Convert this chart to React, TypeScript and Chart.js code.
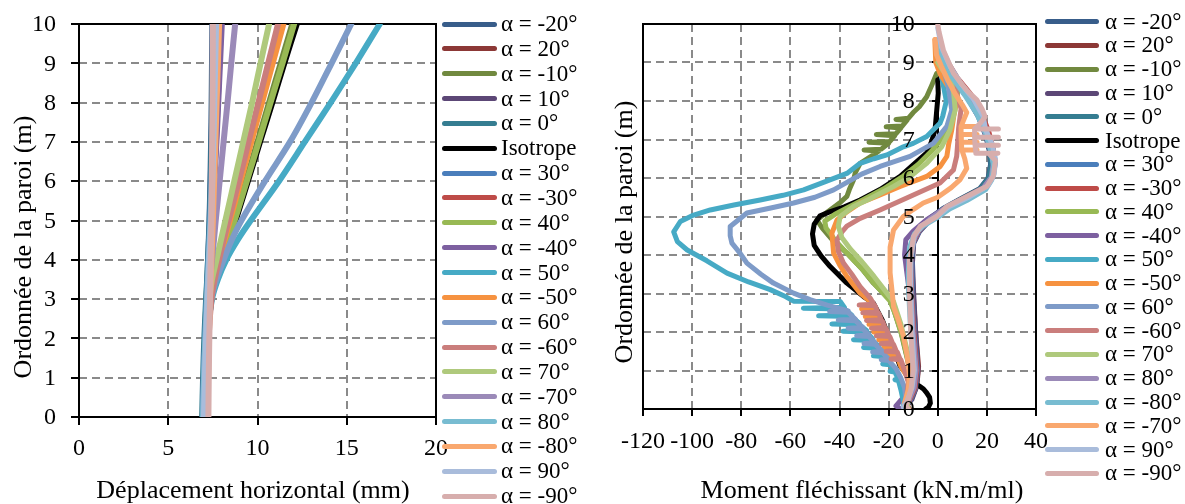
import React, { useEffect, useRef } from 'react';
import { Chart, registerables } from 'chart.js';

Chart.register(...registerables);

// ---------- Left chart : horizontal displacement (mm) vs wall ordinate (m) ----------
const DEPTH = [0, 1, 2, 3, 3.5, 4, 4.5, 5, 6, 7, 8, 9, 10];

const dispM20 = [6.95, 7.0, 7.06, 7.14, 7.19, 7.23, 7.27, 7.31, 7.36, 7.4, 7.43, 7.45, 7.47];
const disp20 = [7.0, 7.05, 7.11, 7.19, 7.24, 7.29, 7.34, 7.39, 7.47, 7.54, 7.6, 7.66, 7.72];
const dispM10 = [7.05, 7.1, 7.18, 7.38, 7.65, 7.98, 8.33, 8.68, 9.35, 10.0, 10.65, 11.3, 11.95];
const disp10 = [7.05, 7.08, 7.13, 7.2, 7.26, 7.32, 7.39, 7.45, 7.56, 7.67, 7.77, 7.86, 7.95];
const disp0 = [6.9, 6.95, 7.02, 7.12, 7.18, 7.23, 7.28, 7.32, 7.38, 7.43, 7.47, 7.5, 7.53];
const dispIso = [7.05, 7.1, 7.2, 7.42, 7.68, 8.05, 8.4, 8.77, 9.46, 10.14, 10.83, 11.5, 12.2];
const disp30 = [6.95, 7.0, 7.07, 7.16, 7.21, 7.26, 7.31, 7.35, 7.42, 7.48, 7.53, 7.58, 7.62];
const dispM30 = [7.0, 7.05, 7.12, 7.2, 7.26, 7.31, 7.36, 7.41, 7.49, 7.56, 7.62, 7.68, 7.74];
const disp40 = [7.05, 7.1, 7.19, 7.4, 7.66, 8.0, 8.36, 8.72, 9.4, 10.07, 10.73, 11.4, 12.05];
const dispM40 = [7.1, 7.12, 7.16, 7.23, 7.28, 7.34, 7.4, 7.46, 7.58, 7.7, 7.8, 7.9, 8.0];
const disp50 = [7.0, 7.04, 7.14, 7.45, 7.78, 8.25, 8.88, 9.62, 11.2, 12.65, 14.1, 15.5, 16.85];
const dispM50 = [7.1, 7.15, 7.22, 7.4, 7.62, 7.88, 8.15, 8.45, 9.05, 9.65, 10.25, 10.85, 11.45];
const disp60 = [6.95, 7.0, 7.1, 7.4, 7.7, 8.1, 8.55, 9.1, 10.42, 11.82, 13.03, 14.15, 15.25];
const dispM60 = [7.15, 7.2, 7.26, 7.42, 7.6, 7.85, 8.1, 8.38, 8.95, 9.5, 10.05, 10.6, 11.15];
const disp70 = [7.05, 7.1, 7.16, 7.3, 7.45, 7.7, 7.95, 8.2, 8.7, 9.2, 9.7, 10.17, 10.65];
const dispM70 = [7.1, 7.13, 7.17, 7.25, 7.35, 7.45, 7.56, 7.66, 7.88, 8.1, 8.32, 8.53, 8.75];
const disp80 = [6.95, 7.01, 7.08, 7.17, 7.22, 7.27, 7.32, 7.37, 7.45, 7.52, 7.58, 7.63, 7.68];
const dispM80 = [7.2, 7.23, 7.27, 7.34, 7.38, 7.42, 7.46, 7.5, 7.57, 7.64, 7.71, 7.78, 7.85];
const disp90 = [7.0, 7.05, 7.12, 7.2, 7.25, 7.3, 7.35, 7.4, 7.47, 7.53, 7.58, 7.63, 7.68];
const dispM90 = [7.25, 7.27, 7.3, 7.34, 7.36, 7.38, 7.4, 7.42, 7.44, 7.46, 7.48, 7.49, 7.5];

const LEFT_LABELS = [
  'α = -20°', 'α = 20°', 'α = -10°', 'α = 10°', 'α = 0°', 'Isotrope', 'α = 30°', 'α = -30°',
  'α = 40°', 'α = -40°', 'α = 50°', 'α = -50°', 'α = 60°', 'α = -60°', 'α = 70°', 'α = -70°',
  'α = 80°', 'α = -80°', 'α = 90°', 'α = -90°',
];
const DISP_SERIES = [
  dispM20, disp20, dispM10, disp10, disp0, dispIso, disp30, dispM30, disp40, dispM40,
  disp50, dispM50, disp60, dispM60, disp70, dispM70, disp80, dispM80, disp90, dispM90,
];

// ---------- Right chart : bending moment (kN.m/ml) vs wall ordinate (m), [moment, ordinate] ----------
const momM20: [number, number][] = [[0,9.4],[2.5,9.0],[7,8.5],[12,8.1],[16.5,7.6],[19.5,7.1],[21,6.7],[21.5,6.35],[20.5,6.0],[17,5.72],[9,5.45],[2,5.2],[-4,4.92],[-8.5,4.6],[-10.5,4.3],[-11,3.8],[-10.8,3.0],[-10,2.0],[-8.8,1.0],[-9.5,0.55],[-11.5,0.25],[-13.5,0.08],[-12.5,0]];
const mom20: [number, number][] = [[0,9.5],[3,9.05],[7.5,8.55],[12.5,8.15],[17,7.65],[20,7.1],[21.5,6.7],[22,6.35],[21,6.0],[17.5,5.72],[9.5,5.45],[2.5,5.2],[-3.5,4.92],[-8,4.6],[-10,4.3],[-10.5,3.8],[-10,3.0],[-9,2.0],[-7.8,1.1],[-8.5,0.6],[-10.5,0.3],[-12.5,0.08],[-11.5,0]];
const momM10: [number, number][] = [[-0.4,8.72],[-2.5,8.4],[-4.5,8.11],[-7.5,7.85],[-10,7.7],[-12,7.55],[-17,7.52],[-12.5,7.5],[-14.5,7.35],[-21,7.33],[-15,7.3],[-17,7.15],[-25,7.13],[-17.5,7.1],[-19.5,6.95],[-28,6.93],[-20,6.9],[-23,6.75],[-30,6.73],[-24,6.7],[-26.2,6.6],[-31.6,6.38],[-33.5,6.15],[-34.3,5.95],[-36,5.7],[-37,5.52],[-40,5.35],[-43.8,5.17],[-47,5.02],[-49.2,4.91],[-47,4.7],[-43,4.4],[-37,4.05],[-31,3.65],[-26.2,3.27],[-22,3.0],[-19.4,2.84],[-18,2.6],[-16.5,2.3],[-15,2.0],[-13.5,1.6],[-12,1.2],[-10.5,0.8],[-11,0.4],[-12.5,0.1],[-12,0]];
const mom10: [number, number][] = [[0,9.45],[2.8,9.0],[7.2,8.5],[12.2,8.1],[16.8,7.6],[19.8,7.1],[21.5,6.7],[22.2,6.35],[21.2,6.0],[18,5.72],[10,5.45],[2.8,5.2],[-3,4.92],[-7.5,4.6],[-9.8,4.3],[-10.3,3.8],[-9.8,3.0],[-9,2.0],[-8,1.0],[-8.8,0.55],[-10.5,0.25],[-12.8,0.08],[-12,0]];
const mom0: [number, number][] = [[0,9.4],[2.6,9.0],[7,8.52],[12,8.1],[16.5,7.62],[19.6,7.12],[21.2,6.72],[21.8,6.35],[20.8,6.0],[17.3,5.72],[9.3,5.45],[2.3,5.2],[-3.8,4.92],[-8.3,4.6],[-10.3,4.3],[-10.8,3.8],[-10.4,3.0],[-9.6,2.0],[-8.5,1.0],[-9.2,0.55],[-11.2,0.25],[-13.2,0.08],[-12.2,0]];
const momIso: [number, number][] = [[0,8.55],[0.2,8.2],[-0.4,7.77],[-1.1,7.25],[-2.5,6.95],[-4.5,6.65],[-9,6.4],[-15.3,6.04],[-23.5,5.7],[-31.6,5.43],[-38,5.25],[-44,5.12],[-47.9,5.02],[-50.3,4.8],[-51,4.55],[-50.3,4.25],[-47.5,3.98],[-43.8,3.7],[-37,3.27],[-30.2,2.92],[-26.2,2.75],[-22.5,2.3],[-19.5,1.8],[-17,1.4],[-15.3,1.11],[-12,0.85],[-9.9,0.67],[-7.5,0.6],[-5.8,0.52],[-4.5,0.42],[-3.3,0.3],[-3,0.15],[-3.8,0.05],[-5,0]];
const mom30: [number, number][] = [[0,9.5],[3,9.05],[7.8,8.55],[13,8.15],[17.5,7.65],[20.5,7.15],[22.5,6.75],[23.5,6.4],[22.5,6.02],[19,5.75],[11,5.48],[3.5,5.22],[-2.5,4.95],[-7.5,4.62],[-10,4.3],[-10.8,3.8],[-10.5,3.0],[-9.5,2.0],[-8.3,1.0],[-9,0.55],[-11,0.25],[-13,0.08],[-12,0]];
const momM30: [number, number][] = [[0,9.55],[3.2,9.1],[8,8.6],[13.2,8.2],[17.8,7.7],[20.8,7.2],[22.6,6.75],[23.2,6.4],[22.2,6.03],[18.7,5.75],[10.7,5.48],[3.2,5.22],[-2.8,4.95],[-7.8,4.62],[-10.2,4.3],[-11,3.8],[-10.6,3.0],[-9.7,2.0],[-8.5,1.0],[-9.2,0.55],[-11.3,0.25],[-13.3,0.08],[-12.3,0]];
const mom40: [number, number][] = [[0,9.1],[3,8.85],[6.5,8.55],[8.4,8.4],[7.5,7.9],[5,7.45],[2,7.05],[-2.5,6.7],[-8,6.35],[-14,6.05],[-22,5.72],[-30,5.45],[-37,5.22],[-42,5.05],[-46,4.88],[-45.5,4.7],[-42,4.4],[-37,4.05],[-31,3.65],[-26,3.27],[-21.5,2.95],[-19.4,2.8],[-17.5,2.5],[-16,2.2],[-14.5,1.9],[-13,1.5],[-11.5,1.1],[-10.5,0.7],[-11.5,0.35],[-12.5,0.1],[-12,0]];
const momM40: [number, number][] = [[0,9.4],[2.5,9.0],[7,8.5],[12,8.1],[16.5,7.6],[19.6,7.1],[21.5,6.7],[23,6.35],[22,6.0],[18.5,5.72],[10,5.45],[2.5,5.2],[-4.5,4.92],[-10,4.62],[-13,4.4],[-13.5,4.0],[-12.5,3.5],[-11.5,3.0],[-10.5,2.0],[-9.5,1.0],[-11,0.6],[-14,0.3],[-17,0.08],[-15,0]];
const mom50: [number, number][] = [[0,9.0],[2,8.5],[3.5,8.0],[2,7.6],[0.9,7.42],[-4.5,7.08],[-10,6.9],[-14,6.81],[-20.7,6.6],[-26,6.5],[-31.6,6.38],[-37,6.12],[-46,5.9],[-54.6,5.69],[-63,5.55],[-72.3,5.43],[-83,5.3],[-92.6,5.17],[-100,5.02],[-104.8,4.87],[-107.5,4.6],[-106,4.35],[-102,4.13],[-94,3.85],[-85.8,3.53],[-77,3.3],[-68.2,3.1],[-62,2.92],[-58.7,2.8],[-39.7,2.79],[-38,2.64],[-54.7,2.62],[-38,2.6],[-35,2.44],[-48.5,2.42],[-35,2.4],[-32,2.23],[-43.1,2.21],[-32,2.19],[-29,2.04],[-38.6,2.02],[-29,2.0],[-26.5,1.82],[-34.3,1.8],[-26.5,1.78],[-24,1.62],[-30.2,1.6],[-24,1.58],[-21.5,1.4],[-26.2,1.38],[-21.5,1.36],[-19.5,1.19],[-22.4,1.17],[-19.5,1.15],[-17.5,1.0],[-19.4,0.98],[-17.5,0.96],[-16,0.78],[-17.4,0.76],[-16,0.74],[-15,0.5],[-14,0.2],[-13,0]];
const momM50: [number, number][] = [[-1.2,9.6],[-0.8,9.0],[1,8.7],[4,8.4],[7.7,8.0],[6.5,7.6],[5.7,7.25],[4.5,6.9],[3.7,6.56],[1,6.3],[-4.5,6.04],[-15.3,5.78],[-24,5.55],[-31.6,5.35],[-37,5.12],[-41,4.91],[-43.1,4.57],[-42.4,4.05],[-40,3.75],[-37,3.44],[-31.6,3.01],[-27.5,2.79],[-26,2.62],[-31,2.6],[-25.5,2.58],[-24.5,2.42],[-29.5,2.4],[-24,2.38],[-23,2.22],[-28,2.2],[-22.5,2.18],[-21.5,2.02],[-26,2.0],[-21,1.98],[-20,1.82],[-24,1.8],[-19.5,1.78],[-18.5,1.62],[-22,1.6],[-18,1.58],[-17,1.42],[-20,1.4],[-16.5,1.38],[-15,1.1],[-12,0.8],[-11.5,0.5],[-12.5,0.15],[-12,0]];
const mom60: [number, number][] = [[0.5,9.2],[2.5,8.8],[4.3,8.37],[5.7,7.77],[3.7,7.34],[-1.8,6.9],[-11.3,6.56],[-23.5,6.3],[-31,6.1],[-42.4,5.69],[-50,5.5],[-58.7,5.35],[-68,5.22],[-77.7,5.09],[-84.5,4.74],[-84.5,4.5],[-83.8,4.31],[-80.5,4.05],[-77.7,3.79],[-72,3.5],[-66.9,3.27],[-58.7,3.01],[-52,2.84],[-45,2.7],[-36.5,2.55],[-44,2.53],[-36.5,2.51],[-33.5,2.33],[-40.5,2.31],[-33.5,2.29],[-30.5,2.12],[-36.5,2.1],[-30.5,2.08],[-28,1.92],[-33,1.9],[-28,1.88],[-25.5,1.72],[-30,1.7],[-25.5,1.68],[-22.5,1.5],[-26.5,1.48],[-22.5,1.46],[-20,1.3],[-23,1.28],[-20,1.26],[-17,1.05],[-15,0.8],[-13.5,0.55],[-13,0.3],[-14,0.1],[-13,0]];
const momM60: [number, number][] = [[0,9.6],[1.5,9.0],[5,8.6],[7.7,8.2],[9.5,7.8],[8.5,7.3],[8,6.8],[7.7,6.56],[6.4,6.21],[0.9,5.87],[-11.3,5.52],[-23.5,5.17],[-31.6,4.95],[-37,4.75],[-39,4.6],[-41,4.39],[-40.5,4.1],[-38.4,3.79],[-35,3.5],[-31.6,3.18],[-27.5,2.88],[-26,2.72],[-32,2.7],[-25.5,2.68],[-24.5,2.52],[-30.5,2.5],[-24,2.48],[-23,2.32],[-29,2.3],[-22.5,2.28],[-21.5,2.12],[-27,2.1],[-21,2.08],[-20,1.92],[-25,1.9],[-19.5,1.88],[-18.5,1.72],[-23,1.7],[-18,1.68],[-17,1.52],[-21,1.5],[-16.5,1.48],[-15.5,1.32],[-19,1.3],[-15,1.28],[-13.5,1.0],[-12,0.7],[-12.5,0.4],[-13.5,0.12],[-12.5,0]];
const mom70: [number, number][] = [[0,9.0],[2,8.8],[5,8.63],[6.5,8.2],[7.1,7.77],[5,7.25],[1.6,6.81],[-4.5,6.38],[-12,6.0],[-18,5.78],[-28,5.45],[-34.3,5.26],[-39.7,5.0],[-40.5,4.75],[-39,4.45],[-35.5,4.15],[-31.6,3.88],[-26,3.45],[-20.7,3.01],[-18,2.79],[-16.5,2.5],[-15,2.2],[-13.5,1.8],[-12,1.4],[-11,1.0],[-10.5,0.6],[-11.5,0.3],[-12.5,0.1],[-12,0]];
const mom80: [number, number][] = [[0,9.5],[3,9.1],[7.5,8.6],[12.5,8.2],[17,7.7],[20,7.2],[21.8,6.75],[22.6,6.38],[21.8,6.02],[18.5,5.74],[10.5,5.47],[3,5.22],[-3,4.95],[-8,4.62],[-10.5,4.3],[-11.2,3.8],[-10.8,3.0],[-10,2.0],[-8.8,1.0],[-9.6,0.55],[-11.6,0.25],[-13.6,0.08],[-12.6,0]];
const momM80: [number, number][] = [[0,9.55],[2,9.1],[6,8.6],[11,8.15],[16,7.65],[19.5,7.15],[21.5,6.72],[22.8,6.3],[22,5.95],[19.5,5.7],[12,5.42],[5,5.2],[0.5,5.0],[-6,4.75],[-9.5,4.55],[-11.5,4.2],[-12,3.5],[-11.8,3.0],[-11,2.0],[-10,1.2],[-10.5,0.6],[-12.5,0.25],[-14,0.08],[-13,0]];
const momM70: [number, number][] = [[-1,9.6],[-0.5,9.2],[1.5,8.9],[4,8.55],[7,8.2],[10,7.9],[11.8,7.7],[10.2,7.45],[9.5,7.34],[16,7.34],[9.5,7.34],[9.5,7.13],[16,7.13],[9.5,7.13],[9.6,6.93],[16,6.93],[9.6,6.93],[9.7,6.73],[16,6.73],[9.8,6.73],[11,6.5],[11.8,6.25],[9,5.95],[5.5,5.75],[0,5.5],[-5.9,5.35],[-10,5.18],[-14,5.0],[-18,4.65],[-19.4,4.2],[-19.4,3.54],[-18.5,3.0],[-18,2.66],[-16,2.3],[-14,1.9],[-12.5,1.4],[-11.5,0.9],[-12,0.5],[-13.5,0.15],[-12.5,0]];
const mom90: [number, number][] = [[0,9.9],[1.5,9.4],[5,8.9],[9.5,8.45],[14.5,8.05],[18.5,7.6],[19.5,7.25],[22,6.9],[23.5,6.5],[23,6.1],[20.5,5.8],[12.5,5.5],[4.5,5.25],[0,5.02],[-6.5,4.76],[-9.5,4.5],[-11,3.9],[-11,3.0],[-10.5,2.0],[-9.5,1.0],[-10.5,0.55],[-12.5,0.2],[-14,0.05],[-13,0]];
const momM90: [number, number][] = [[0,10],[0.5,9.8],[2.3,9.32],[4.5,9.0],[6.4,8.72],[9,8.5],[11.8,8.28],[15.9,8.03],[18,7.8],[19.3,7.59],[17,7.4],[15,7.27],[24.7,7.27],[15,7.27],[15,7.06],[24.7,7.06],[15,7.06],[15.2,6.85],[24.7,6.85],[15.2,6.85],[15.5,6.64],[24.5,6.64],[21,6.62],[23.5,6.45],[22.6,6.05],[19.9,5.78],[11.8,5.52],[3.7,5.26],[-0.4,5.0],[-7.2,4.74],[-9.9,4.48],[-11.3,3.9],[-11.5,3.0],[-11,2.0],[-10,1.0],[-10.8,0.55],[-12,0.25],[-13,0.08],[-12,0]];

const RIGHT_LABELS = [
  'α = -20°', 'α = 20°', 'α = -10°', 'α = 10°', 'α = 0°', 'Isotrope', 'α = 30°', 'α = -30°',
  'α = 40°', 'α = -40°', 'α = 50°', 'α = -50°', 'α = 60°', 'α = -60°', 'α = 70°', 'α = 80°',
  'α = -80°', 'α = -70°', 'α = 90°', 'α = -90°',
];
const MOM_SERIES = [
  momM20, mom20, momM10, mom10, mom0, momIso, mom30, momM30, mom40, momM40,
  mom50, momM50, mom60, momM60, mom70, mom80, momM80, momM70, mom90, momM90,
];

const COLORS = [
  '#385D8A', '#8C3836', '#71893F', '#5C4776', '#357D91', '#000000', '#4A7EBB', '#BE4B48',
  '#98B954', '#7D60A0', '#46AAC5', '#F69240', '#7E9BC8', '#CA7E7C', '#AFC97C', '#9B8AB8',
  '#78BCD1', '#F9A86F', '#A9BCDB', '#D7AEAD',
];

const X_TICKS_DISP = [0, 5, 10, 15, 20];
const X_TICKS_MOM = [-120, -100, -80, -60, -40, -20, 0, 20, 40];
const Y_TICKS = [0, 1, 2, 3, 4, 5, 6, 7, 8, 9, 10];

const FONT_FAMILY = '"Liberation Serif", "Times New Roman", serif';

type Spec = {
  xTicks: number[];
  yTicks: number[];
  yAxisAt: number | null;
  yTickLen: number;
  xTickLen: number;
  labelGap: number;
  xLabelY: number;
  xTitle: string;
  yTitle: string;
  xTitlePos: [number, number];
  yTitlePos: [number, number];
};

function decoPlugin(spec: Spec) {
  return {
    id: 'deco',
    beforeDatasetsDraw(chart: any) {
      const { ctx, chartArea: a, scales } = chart;
      const sx = scales.x;
      const sy = scales.y;
      ctx.save();
      ctx.lineWidth = 2;
      ctx.strokeStyle = '#8a8a8a';
      ctx.setLineDash([8, 5]);
      spec.xTicks.forEach((v) => {
        if (v === sx.min || v === sx.max || v === spec.yAxisAt) return;
        const px = Math.round(sx.getPixelForValue(v));
        ctx.beginPath();
        ctx.moveTo(px, a.top);
        ctx.lineTo(px, a.bottom);
        ctx.stroke();
      });
      spec.yTicks.forEach((v) => {
        if (v === sy.min || v === sy.max) return;
        const py = Math.round(sy.getPixelForValue(v));
        ctx.beginPath();
        ctx.moveTo(a.left, py);
        ctx.lineTo(a.right, py);
        ctx.stroke();
      });
      ctx.setLineDash([]);
      ctx.strokeStyle = '#000';
      ctx.strokeRect(a.left, a.top, a.right - a.left, a.bottom - a.top);
      const axisX = spec.yAxisAt === null ? a.left : Math.round(sx.getPixelForValue(spec.yAxisAt));
      if (spec.yAxisAt !== null) {
        ctx.beginPath();
        ctx.moveTo(axisX, a.top);
        ctx.lineTo(axisX, a.bottom);
        ctx.stroke();
      }
      spec.yTicks.forEach((v) => {
        const py = Math.round(sy.getPixelForValue(v));
        ctx.beginPath();
        ctx.moveTo(axisX - spec.yTickLen, py);
        ctx.lineTo(axisX, py);
        ctx.stroke();
      });
      spec.xTicks.forEach((v) => {
        const px = Math.round(sx.getPixelForValue(v));
        ctx.beginPath();
        ctx.moveTo(px, a.bottom);
        ctx.lineTo(px, a.bottom + spec.xTickLen);
        ctx.stroke();
      });
      ctx.restore();
    },
    afterDraw(chart: any) {
      const { ctx, chartArea: a, scales } = chart;
      const sx = scales.x;
      const sy = scales.y;
      const axisX = spec.yAxisAt === null ? a.left : sx.getPixelForValue(spec.yAxisAt);
      ctx.save();
      ctx.fillStyle = '#000';
      ctx.font = `24px ${FONT_FAMILY}`;
      ctx.textAlign = 'right';
      ctx.textBaseline = 'middle';
      spec.yTicks.forEach((v) => {
        ctx.fillText(String(v), axisX - spec.labelGap, sy.getPixelForValue(v) + 1);
      });
      ctx.textAlign = 'center';
      spec.xTicks.forEach((v) => {
        ctx.fillText(String(v), sx.getPixelForValue(v), spec.xLabelY);
      });
      ctx.font = `26px ${FONT_FAMILY}`;
      ctx.fillText(spec.xTitle, spec.xTitlePos[0], spec.xTitlePos[1]);
      ctx.translate(spec.yTitlePos[0], spec.yTitlePos[1]);
      ctx.rotate(-Math.PI / 2);
      ctx.fillText(spec.yTitle, 0, 0);
      ctx.restore();
    },
  };
}

function Legend({ labels, left, top, pitch, lineW, gap }: { labels: string[]; left: number; top: number; pitch: number; lineW: number; gap: number }) {
  return (
    <>
      {labels.map((lab, i) => (
        <div
          key={lab + i}
          style={{
            position: 'absolute',
            left,
            top: top + i * pitch - 12,
            height: 24,
            display: 'flex',
            alignItems: 'center',
            whiteSpace: 'nowrap',
          }}
        >
          <span style={{ display: 'inline-block', width: lineW, height: 5, borderRadius: 3, background: COLORS[i] }} />
          <span style={{ marginLeft: gap, fontSize: 23, lineHeight: '24px', fontFamily: FONT_FAMILY, color: '#000' }}>{lab}</span>
        </div>
      ))}
    </>
  );
}

export default function App() {
  const leftRef = useRef<HTMLCanvasElement | null>(null);
  const rightRef = useRef<HTMLCanvasElement | null>(null);

  useEffect(() => {
    const n = DISP_SERIES.length;
    const leftChart = new Chart(leftRef.current as HTMLCanvasElement, {
      type: 'scatter',
      data: {
        datasets: DISP_SERIES.map((arr, i) => ({
          label: LEFT_LABELS[i],
          data: arr.map((x, k) => ({ x, y: DEPTH[k] })),
          showLine: true,
          borderColor: COLORS[i],
          backgroundColor: COLORS[i],
          borderWidth: 6,
          pointRadius: 0,
          tension: 0.3,
          borderJoinStyle: 'round',
          borderCapStyle: 'round',
          order: n - 1 - i,
        })),
      },
      options: {
        responsive: false,
        animation: false,
        events: [],
        layout: { padding: { left: 79, right: 164, top: 24, bottom: 87 } },
        scales: {
          x: { type: 'linear', min: 0, max: 20, display: false },
          y: { type: 'linear', min: 0, max: 10, display: false },
        },
        plugins: { legend: { display: false }, tooltip: { enabled: false } },
      },
      plugins: [
        decoPlugin({
          xTicks: X_TICKS_DISP,
          yTicks: Y_TICKS,
          yAxisAt: null,
          yTickLen: 8,
          xTickLen: 8,
          labelGap: 23,
          xLabelY: 449,
          xTitle: 'Déplacement horizontal (mm)',
          yTitle: 'Ordonnée de la paroi (m)',
          xTitlePos: [253, 491],
          yTitlePos: [24, 247],
        }),
      ],
    } as any);

    const rightChart = new Chart(rightRef.current as HTMLCanvasElement, {
      type: 'scatter',
      data: {
        datasets: MOM_SERIES.map((arr, i) => ({
          label: RIGHT_LABELS[i],
          data: arr.map(([x, y]) => ({ x, y })),
          showLine: true,
          borderColor: COLORS[i],
          backgroundColor: COLORS[i],
          borderWidth: 5,
          pointRadius: 0,
          tension: 0,
          borderJoinStyle: 'round',
          borderCapStyle: 'round',
          order: n - 1 - i,
        })),
      },
      options: {
        responsive: false,
        animation: false,
        events: [],
        layout: { padding: { left: 43, right: 149, top: 24, bottom: 95 } },
        scales: {
          x: { type: 'linear', min: -120, max: 40, display: false },
          y: { type: 'linear', min: 0, max: 10, display: false },
        },
        plugins: { legend: { display: false }, tooltip: { enabled: false } },
      },
      plugins: [
        decoPlugin({
          xTicks: X_TICKS_MOM,
          yTicks: Y_TICKS,
          yAxisAt: 0,
          yTickLen: 6,
          xTickLen: 7,
          labelGap: 23,
          xLabelY: 442,
          xTitle: 'Moment fléchissant (kN.m/ml)',
          yTitle: 'Ordonnée de la paroi (m)',
          xTitlePos: [262, 491],
          yTitlePos: [25, 232],
        }),
      ],
    } as any);

    return () => {
      leftChart.destroy();
      rightChart.destroy();
    };
  }, []);

  return (
    <div style={{ position: 'absolute', left: 0, top: 0, width: 1185, height: 504, background: '#fff', overflow: 'hidden' }}>
      <canvas ref={leftRef} width={600} height={504} style={{ position: 'absolute', left: 0, top: 0 }} />
      <canvas ref={rightRef} width={585} height={504} style={{ position: 'absolute', left: 600, top: 0 }} />
      <Legend labels={LEFT_LABELS} left={442} top={24} pitch={24.85} lineW={55} gap={4} />
      <Legend labels={RIGHT_LABELS} left={1045} top={21.7} pitch={23.77} lineW={54} gap={6} />
    </div>
  );
}
